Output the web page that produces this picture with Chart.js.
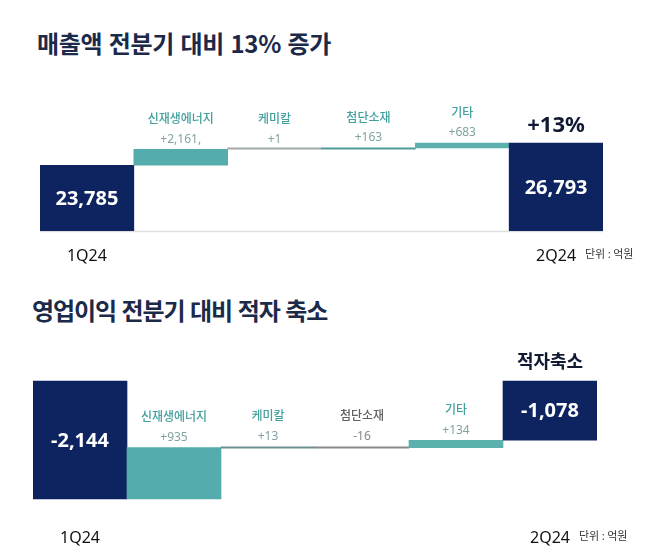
<!DOCTYPE html>
<html lang="ko">
<head>
<meta charset="utf-8">
<script src="https://cdn.jsdelivr.net/npm/chart.js@4.4.1/dist/chart.umd.min.js"></script>
<style>
  body { margin: 0; width: 658px; height: 560px; background: #fff; position: relative; overflow: hidden;
         font-family: "Noto Sans CJK KR", sans-serif; }
  .title { position: absolute; font-weight: 700; font-size: 24px; line-height: 28px; color: #1c2a4a;
           white-space: nowrap; letter-spacing: -0.3px; }
  .box { position: absolute; left: 0; width: 658px; height: 280px; }
</style>
</head>
<body>
<div class="title" style="left:37px;top:29px">매출액 전분기 대비 13% 증가</div>
<div class="title" style="left:32px;top:296px;letter-spacing:-1.1px">영업이익 전분기 대비 적자 축소</div>
<div class="box" style="top:0"><canvas id="revChart" width="658" height="280"></canvas></div>
<div class="box" style="top:280px"><canvas id="opChart" width="658" height="280"></canvas></div>

<script>
// data (억원)
const categories = ['1Q24', '신재생에너지', '케미칼', '첨단소재', '기타', '2Q24'];

const revenueTotals = [23785, 26793];
const revenueChanges = [2161, 1, 163, 683];
const revenueChangeText = ['+2,161,', '+1', '+163', '+683'];
const revenueAxis = [14900, 38000];

const profitTotals = [-2144, -1078];
const profitChanges = [935, 13, -16, 134];
const profitChangeText = ['+935', '+13', '-16', '+134'];
const profitAxis = [-2400, 800];

const headlines = ['+13%', '적자축소'];
const unitText = '단위 : 억원';

const NAVY = '#0d2461';
const NUM_FONT = '"Noto Sans", "Noto Sans CJK KR", sans-serif';
const KR_FONT = '"Noto Sans CJK KR", sans-serif';

// start -> each change -> end, totals start from base
function waterfall(totals, changes, base) {
    let run = totals[0];
    const bars = [[base, totals[0]]];
    changes.forEach(d => {
        bars.push([run, run + d]);
        run += d;
    });
    bars.push([base, totals[1]]);
    return bars;
}

const waterfallLabels = {
    id: 'waterfallLabels',
    beforeDatasetsDraw(chart, args, opts) {
        if (!opts.baseline) return;
        const { ctx, chartArea } = chart;
        ctx.save();
        ctx.strokeStyle = '#dedede';
        ctx.lineWidth = 1.5;
        ctx.beginPath();
        ctx.moveTo(chartArea.left, chartArea.bottom + 0.5);
        ctx.lineTo(chartArea.right, chartArea.bottom + 0.5);
        ctx.stroke();
        ctx.restore();
    },
    afterDatasetsDraw(chart, args, opts) {
        const { ctx, chartArea, scales: { x, y } } = chart;
        const bars = chart.data.datasets[0].data;
        const last = bars.length - 1;
        ctx.save();
        ctx.textAlign = 'center';
        ctx.textBaseline = 'middle';
        bars.forEach((b, i) => {
            const cx = x.getPixelForValue(i);
            const top = y.getPixelForValue(Math.max(b[0], b[1]));
            const bottom = y.getPixelForValue(Math.min(b[0], b[1]));
            if (i === 0 || i === last) {
                ctx.fillStyle = '#fff';
                ctx.font = 'bold 20px ' + NUM_FONT;
                ctx.fillText(b[1].toLocaleString('en-US'), cx, (top + bottom) / 2 + 1);
                ctx.fillStyle = '#111';
                ctx.font = '16px ' + NUM_FONT;
                ctx.fillText(categories[i], cx, chartArea.bottom + opts.tickGap);
                if (i === last) {
                    ctx.fillStyle = '#111a33';
                    ctx.font = opts.headFont;
                    ctx.fillText(opts.headline, cx, top - opts.headGap);
                }
            } else {
                const d = b[1] - b[0];
                ctx.fillStyle = d >= 0 ? '#43a09d' : '#606060';
                ctx.font = '500 12px ' + KR_FONT;
                ctx.fillText(categories[i], cx, top - 31);
                ctx.fillStyle = d >= 0 ? '#7fa3a1' : '#888';
                ctx.font = '12px ' + NUM_FONT;
                ctx.fillText(opts.changeText[i - 1], cx, top - 10);
            }
        });
        ctx.textAlign = 'left';
        ctx.fillStyle = '#333';
        ctx.font = '11px ' + KR_FONT;
        ctx.fillText(unitText, chartArea.right - 18, chartArea.bottom + opts.tickGap - 2);
        ctx.restore();
    }
};

function makeChart(id, totals, changes, axis, base, colors, padding, labelOpts) {
    return new Chart(document.getElementById(id), {
        type: 'bar',
        data: {
            labels: categories,
            datasets: [{
                data: waterfall(totals, changes, base),
                backgroundColor: colors,
                barPercentage: 1,
                categoryPercentage: 1,
                minBarLength: 1.5
            }]
        },
        options: {
            responsive: false,
            animation: false,
            layout: { padding: padding },
            scales: {
                x: { display: false },
                y: { display: false, min: axis[0], max: axis[1] }
            },
            plugins: {
                legend: { display: false },
                tooltip: { enabled: false },
                waterfallLabels: labelOpts
            }
        },
        plugins: [waterfallLabels]
    });
}

makeChart('revChart', revenueTotals, revenueChanges, revenueAxis, revenueAxis[0],
    [NAVY, '#54adac', '#a3a9a9', '#4e9c9a', '#5cb0ae', NAVY],
    { left: 40, right: 55, top: 60, bottom: 49 },
    { baseline: true, changeText: revenueChangeText, headline: headlines[0],
      headFont: 'bold 22px ' + NUM_FONT, headGap: 17, tickGap: 25 });

makeChart('opChart', profitTotals, profitChanges, profitAxis, 0,
    [NAVY, '#54adac', '#6f8f8f', '#8a8a8a', '#5cb0ae', NAVY],
    { left: 33, right: 61, top: 57, bottom: 47 },
    { baseline: false, changeText: profitChangeText, headline: headlines[1],
      headFont: 'bold 18px ' + KR_FONT, headGap: 20, tickGap: 25 });
</script>
</body>
</html>
